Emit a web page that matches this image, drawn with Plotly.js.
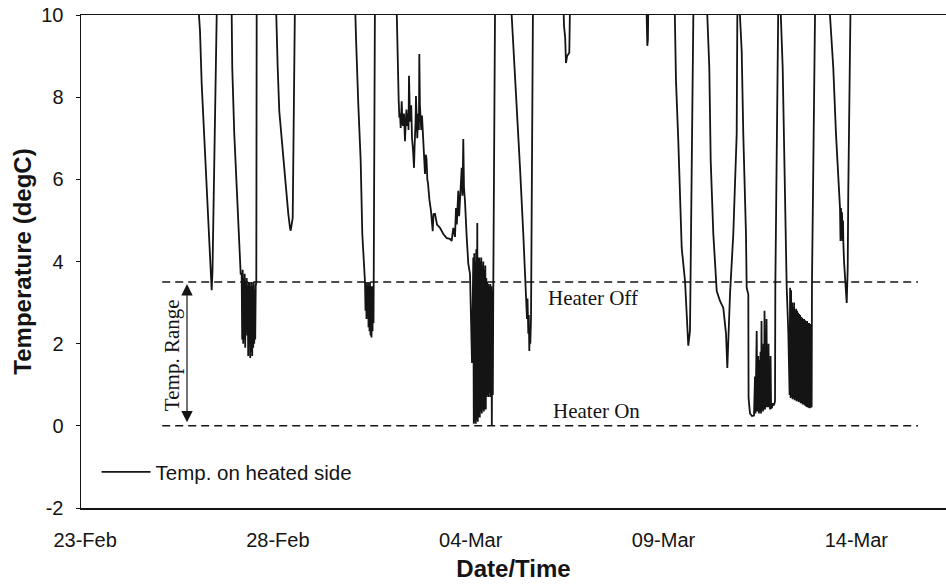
<!DOCTYPE html>
<html>
<head>
<meta charset="utf-8">
<script src="https://cdn.plot.ly/plotly-3.0.1.min.js"></script>
<style>html,body{margin:0;padding:0;background:#fff;}#chart{width:946px;height:586px;}</style>
</head>
<body>
<div id="chart"></div>
<script>
// Elapsed time in days since 23-Feb-2008 00:00, and logged temperature (degC).
// Values above 10 degC run off the top of the chart.
const dayOffset = [
  0.300,
  // dip 1
  2.930, 2.954, 2.980, 3.024, 3.083, 3.154, 3.195, 3.240, 3.265, 3.283, 3.304, 3.330, 3.369, 3.413, 3.440,
  // dip 2
  3.780, 3.802, 3.817, 3.869, 3.947, 3.999, 4.035,
  4.061, 4.074, 4.087, 4.100, 4.113, 4.126, 4.139, 4.152, 4.165, 4.178, 4.191, 4.204, 4.217, 4.230, 4.243,
  4.256, 4.269, 4.282, 4.295, 4.308, 4.321, 4.334, 4.347, 4.360, 4.373, 4.386, 4.399, 4.412, 4.425,
  4.440, 4.450, 4.470,
  // dip 3
  4.930, 4.951, 4.995, 5.036, 5.099, 5.158, 5.210, 5.244, 5.270, 5.314, 5.332, 5.384, 5.399, 5.425, 5.450,
  // dip 4
  6.980, 7.000, 7.026, 7.085, 7.147, 7.189, 7.241,
  7.259, 7.272, 7.285, 7.298, 7.311, 7.324, 7.337, 7.350, 7.363, 7.376, 7.389, 7.402, 7.415, 7.428, 7.441,
  7.454, 7.467, 7.480, 7.495, 7.505, 7.520,
  // dip 5
  8.060, 8.081, 8.096, 8.133, 8.150, 8.167, 8.185, 8.211, 8.228, 8.244, 8.270, 8.296, 8.315, 8.335, 8.355,
  8.374, 8.388, 8.400, 8.420, 8.439, 8.458, 8.478, 8.505, 8.530, 8.545, 8.556, 8.570, 8.581, 8.600, 8.615,
  8.632, 8.646, 8.657, 8.667, 8.683, 8.698, 8.718, 8.737, 8.757, 8.776, 8.795, 8.815, 8.835, 8.854, 8.875,
  8.893, 8.930, 8.970, 9.015, 9.035, 9.074, 9.126,
  9.204, 9.290, 9.378, 9.463, 9.507, 9.549, 9.593, 9.619, 9.640, 9.660, 9.678, 9.700, 9.722, 9.745, 9.767,
  9.787, 9.808, 9.826, 9.852,
  9.896, 9.938, 9.982, 10.034,
  10.067, 10.080, 10.093, 10.106, 10.119, 10.132, 10.145, 10.158, 10.171, 10.184, 10.197, 10.210, 10.223,
  10.236, 10.249, 10.262, 10.275, 10.288, 10.301, 10.314, 10.327, 10.340, 10.353, 10.366, 10.379, 10.392,
  10.405, 10.418, 10.431, 10.444, 10.457, 10.470, 10.483, 10.496, 10.509, 10.522, 10.535, 10.548, 10.561,
  10.574, 10.586, 10.600, 10.630, 10.650,
  // dip 6
  11.040, 11.063, 11.105, 11.193, 11.279, 11.364, 11.434, 11.447, 11.460, 11.473, 11.494, 11.507, 11.520,
  11.533, 11.546, 11.564, 11.597, 11.620,
  // dip 7
  12.380, 12.401, 12.420, 12.450, 12.471, 12.500, 12.530, 12.557, 12.575, 12.600,
  // dip 8
  14.540, 14.564, 14.580, 14.595, 14.606, 14.630,
  // dip 9
  15.275, 15.298, 15.324, 15.384, 15.428, 15.472, 15.558, 15.601, 15.643, 15.687, 15.713, 15.773, 15.795,
  // dip 10
  16.115, 16.136, 16.188, 16.224, 16.292, 16.380, 16.465, 16.551, 16.621, 16.655, 16.725, 16.810, 16.898,
  16.914, 16.935,
  // dip 11
  16.960, 16.983, 17.028, 17.069, 17.139, 17.157, 17.199, 17.206, 17.243, 17.295, 17.347, 17.373, 17.386,
  17.417, 17.432, 17.458, 17.476,
  17.490, 17.503, 17.516, 17.529, 17.542, 17.555, 17.568, 17.581, 17.594, 17.607, 17.620, 17.633, 17.646,
  17.659, 17.672, 17.685, 17.698, 17.711, 17.724, 17.737, 17.750, 17.763, 17.776, 17.790, 17.814, 17.840,
  17.866, 17.892, 17.900, 17.961, 17.985,
  // dip 12
  18.020, 18.043, 18.091, 18.132, 18.169, 18.195, 18.236, 18.270,
  18.283, 18.296, 18.309, 18.322, 18.335, 18.348, 18.361, 18.374, 18.387, 18.400, 18.413, 18.426, 18.439,
  18.452, 18.465, 18.478, 18.491, 18.504, 18.517, 18.530, 18.543, 18.556, 18.569, 18.582, 18.595, 18.608,
  18.621, 18.634, 18.647, 18.660, 18.673, 18.686, 18.699, 18.712, 18.725, 18.738, 18.751, 18.764, 18.777,
  18.790, 18.803, 18.816, 18.829, 18.842,
  18.850, 18.880, 18.929, 18.950,
  // dip 13
  19.295, 19.318, 19.403, 19.473, 19.533, 19.577, 19.590, 19.603, 19.616, 19.629, 19.642, 19.655, 19.663,
  19.681, 19.751, 19.777, 19.792, 19.836, 19.860,
  22.500
];
const tempC = [
  12.0,
  // dip 1
  11.0, 9.98, 9.61, 8.32, 7.25, 5.96, 5.06, 4.18, 3.77, 3.30, 3.77, 5.47, 7.91, 9.98, 11.0,
  // dip 2
  11.0, 9.98, 8.71, 7.10, 5.47, 4.26, 3.70,
  3.7, 2.1, 3.8, 2.0, 3.6, 2.1, 3.7, 1.9, 3.5, 2.3, 3.6, 2.2, 3.4, 1.7, 3.5,
  2.0, 3.5, 1.65, 3.4, 1.8, 3.5, 1.7, 3.4, 1.9, 3.5, 2.0, 3.3, 2.1, 3.4,
  3.5, 9.98, 11.0,
  // dip 3
  11.0, 9.98, 8.71, 7.66, 6.93, 6.28, 5.79, 5.47, 5.16, 4.82, 4.75, 5.06, 7.59, 9.98, 11.0,
  // dip 4
  11.0, 9.98, 9.44, 7.83, 6.45, 4.67, 3.84,
  3.5, 2.8, 3.5, 2.6, 3.4, 2.7, 3.5, 2.4, 3.4, 2.3, 3.5, 2.2, 3.4, 2.15, 3.4,
  2.3, 3.3, 2.5, 7.0, 9.98, 11.0,
  // dip 5
  11.0, 9.98, 8.95, 7.91, 7.5, 7.6, 7.25, 7.9, 7.4, 7.3, 7.6, 6.93, 7.4, 7.7, 7.3,
  7.6, 7.2, 8.52, 7.7, 7.4, 7.8, 7.0, 6.7, 6.28, 6.8, 7.0, 7.4, 8.03, 7.3, 7.0,
  7.5, 7.6, 7.2, 9.05, 7.8, 7.6, 7.2, 7.55, 7.1, 6.9, 6.6, 6.13, 6.6, 6.5, 6.0,
  5.9, 5.5, 5.23, 4.74, 5.15, 5.16, 4.9,
  4.82, 4.67, 4.57, 4.55, 4.50, 4.82, 4.6, 5.3, 4.9, 5.6, 5.72, 5.1, 5.5, 5.9, 6.28,
  5.6, 6.98, 5.8, 5.47,
  4.6, 3.94, 3.7, 1.53,
  4.1, 0.05, 4.2, 0.1, 4.0, 0.05, 4.3, 0.15, 4.94, 0.1, 4.1, 0.2, 4.1,
  0.2, 4.0, 0.35, 4.1, 0.3, 3.9, 0.4, 4.0, 0.35, 3.8, 0.4, 3.9, 0.4,
  3.6, 0.7, 3.5, 0.75, 3.45, 0.7, 3.4, 0.8, 3.45, 0.7, 3.4, 0.0, 3.3,
  0.75, 3.4, 6.0, 9.98, 11.0,
  // dip 6
  11.0, 9.98, 9.29, 7.91, 6.28, 4.67, 3.21, 3.0, 2.6, 3.1, 2.24, 2.7, 1.82,
  2.4, 2.0, 2.6, 9.98, 11.0,
  // dip 7
  11.0, 9.98, 9.73, 9.45, 8.83, 9.0, 9.05, 9.08, 10.2, 11.0,
  // dip 8
  11.0, 9.98, 9.25, 9.4, 10.2, 11.0,
  // dip 9
  11.0, 9.98, 8.39, 6.93, 5.64, 4.33, 3.53, 2.55, 1.95, 2.31, 5.06, 9.93, 11.0,
  // dip 10
  11.0, 9.98, 8.71, 6.45, 4.67, 3.28, 3.04, 2.87, 2.24, 1.41, 3.21, 4.67, 7.10,
  9.93, 11.0,
  // dip 11
  11.0, 9.98, 9.12, 7.10, 4.67, 3.36, 3.2, 0.68, 0.30, 0.24, 0.25, 1.2, 0.30,
  2.31, 0.35, 1.70, 0.30,
  1.6, 0.35, 1.8, 0.3, 2.55, 0.4, 1.9, 0.35, 2.0, 0.4, 2.80, 0.4, 1.9,
  0.45, 2.6, 0.45, 1.8, 0.45, 2.0, 0.45, 1.5, 0.4, 1.7, 0.42, 0.45, 0.55,
  0.5, 0.6, 3.4, 9.98, 11.0,
  // dip 12
  11.0, 9.98, 8.71, 6.28, 3.84, 3.36, 2.3, 0.75,
  3.36, 0.68, 3.3, 0.7, 3.0, 0.65, 2.9, 0.68, 3.0, 0.62, 2.8, 0.65, 2.85,
  0.6, 2.8, 0.62, 2.75, 0.58, 2.72, 0.6, 2.7, 0.55, 2.65, 0.55, 2.63, 0.52,
  2.6, 0.53, 2.6, 0.5, 2.57, 0.48, 2.55, 0.46, 2.55, 0.45, 2.5, 0.44, 2.5,
  0.43, 2.48, 0.44, 2.48, 0.45,
  3.45, 6.5, 9.98, 11.0,
  // dip 13
  11.0, 9.98, 8.71, 7.10, 5.89, 5.30, 4.5, 5.3, 4.55, 5.2, 4.5, 5.0, 4.5,
  4.01, 2.99, 3.84, 5.72, 9.98, 11.0,
  12.0
];

// Heater thresholds (degC) and the span over which the reference lines are drawn (days)
const heaterOffTemp = 3.5;
const heaterOnTemp = 0;
const thresholdSpanDays = [2.0, 21.6];
const rangeArrowDay = 2.643;

// Axes
const axisRangeDays = [-0.106, 22.326];
const yTickValues = [-2, 0, 2, 4, 6, 8, 10];
const yTickLabels = ['-2', '0', '2', '4', '6', '8', '10'];

const baseMs = Date.UTC(2008, 1, 23);
function toDate(d) {
  return new Date(baseMs + d * 86400000).toISOString().slice(0, 19).replace('T', ' ');
}

const xDates = dayOffset.map(toDate);
const spanDates = thresholdSpanDays.map(toDate);

const sans = 'Liberation Sans, Arial, Helvetica, sans-serif';
const serif = 'Liberation Serif, Times New Roman, serif';
const ink = '#141414';

const traces = [
  {
    x: spanDates, y: [heaterOffTemp, heaterOffTemp], type: 'scatter', mode: 'lines',
    line: {color: ink, width: 1.5, dash: '8px,5px'}, showlegend: false, hoverinfo: 'skip'
  },
  {
    x: spanDates, y: [heaterOnTemp, heaterOnTemp], type: 'scatter', mode: 'lines',
    line: {color: ink, width: 1.5, dash: '8px,5px'}, showlegend: false, hoverinfo: 'skip'
  },
  {
    x: xDates, y: tempC, type: 'scatter', mode: 'lines', name: 'Temp. on heated side',
    line: {color: ink, width: 1.8}
  }
];

const layout = {
  width: 946, height: 586,
  margin: {l: 81, r: 0, t: 15, b: 78, pad: 0},
  paper_bgcolor: '#ffffff', plot_bgcolor: '#ffffff',
  font: {family: sans, color: ink},
  showlegend: true,
  legend: {
    x: 0.018, y: 0.073, xanchor: 'left', yanchor: 'middle',
    bgcolor: 'rgba(0,0,0,0)', borderwidth: 0,
    font: {family: sans, size: 20.5, color: ink},
    itemwidth: 49
  },
  xaxis: {
    type: 'date',
    range: axisRangeDays.map(toDate),
    tick0: '2008-02-23', dtick: 5 * 86400000,
    tickformat: '%d-%b',
    showline: true, mirror: true, linecolor: ink, linewidth: 1.5,
    ticks: '', showgrid: false, zeroline: false,
    tickfont: {family: sans, size: 20, color: ink},
    ticklabelstandoff: 13,
    title: {text: 'Date/Time', font: {family: sans, size: 24, color: ink, weight: 'bold'}, standoff: 10}
  },
  yaxis: {
    range: [-2, 10],
    tickmode: 'array', tickvals: yTickValues, ticktext: yTickLabels,
    showline: true, mirror: false, linecolor: ink, linewidth: 1.5,
    ticks: 'outside', ticklen: 4, tickcolor: ink, tickwidth: 1,
    showgrid: false, zeroline: false,
    tickfont: {family: sans, size: 20, color: ink},
    ticklabelstandoff: 8,
    title: {text: 'Temperature (degC)', font: {family: sans, size: 24, color: ink, weight: 'bold'}, standoff: 3}
  },
  annotations: [
    {x: toDate(13.172), y: 3.11, xref: 'x', yref: 'y', text: 'Heater Off', showarrow: false,
     font: {family: serif, size: 21, color: ink}},
    {x: toDate(13.275), y: 0.365, xref: 'x', yref: 'y', text: 'Heater On', showarrow: false,
     font: {family: serif, size: 21, color: ink}},
    {x: toDate(2.253), y: 1.72, xref: 'x', yref: 'y', text: 'Temp. Range', textangle: -90, showarrow: false,
     font: {family: serif, size: 21, color: ink}},
    {x: toDate(rangeArrowDay), y: heaterOffTemp - 0.05, xref: 'x', yref: 'y',
     ax: toDate(rangeArrowDay), ay: heaterOnTemp + 0.05, axref: 'x', ayref: 'y',
     text: '', showarrow: true, arrowside: 'end+start', arrowhead: 2, arrowsize: 1.9, arrowwidth: 1.2,
     arrowcolor: ink, standoff: 0, startstandoff: 0}
  ]
};

Plotly.newPlot('chart', traces, layout, {staticPlot: true, displayModeBar: false});
</script>
</body>
</html>
